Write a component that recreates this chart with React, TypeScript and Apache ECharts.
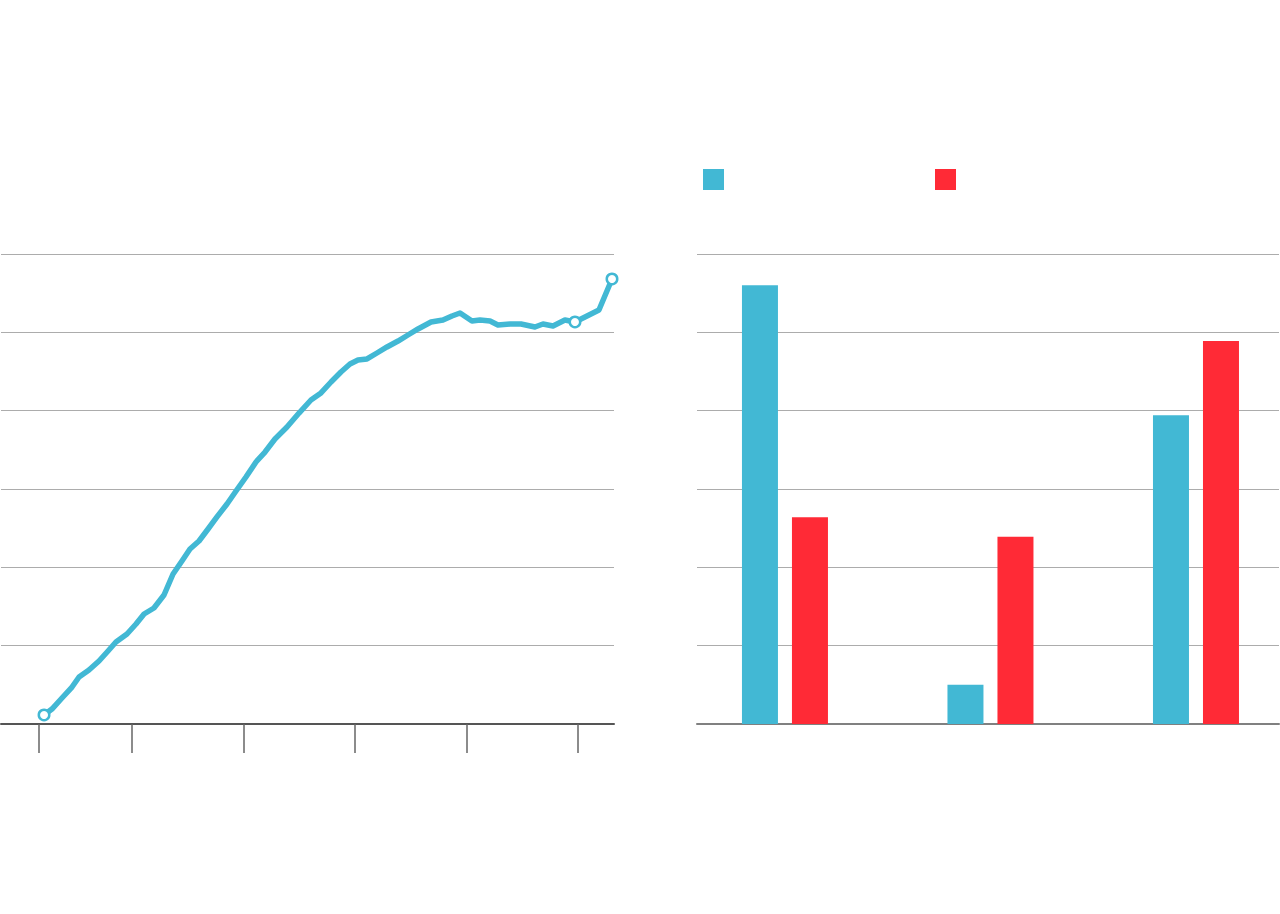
import React, { useEffect, useRef } from "react";
import * as echarts from "echarts";

// Left chart: line series (x in decimal years, y in value units 0–60)
const lineYears = [
  1972.11, 1972.82, 1973.72, 1974.62, 1975.25, 1976.14, 1977.04, 1977.85, 1978.56, 1979.55,
  1980.36, 1981.08, 1981.97, 1982.87, 1983.68, 1984.48, 1985.2, 1986.01, 1986.82, 1987.62,
  1988.52, 1989.33, 1990.22, 1991.12, 1991.93, 1992.82, 1993.9, 1994.98, 1996.05, 1996.95,
  1997.85, 1998.74, 1999.55, 2000.27, 2001.08, 2001.97, 2002.87, 2003.86, 2004.75, 2005.65,
  2006.82, 2007.89, 2008.7, 2009.42, 2010.49, 2011.21, 2012.11, 2012.82, 2013.9, 2014.89,
  2016.14, 2016.86, 2017.76, 2018.83, 2019.73, 2020.81, 2021.88, 2023.05,
];
const lineValues = [
  1.15, 1.91, 3.32, 4.72, 6.0, 6.89, 8.04, 9.32, 10.47, 11.49,
  12.77, 14.04, 14.81, 16.47, 19.15, 20.81, 22.34, 23.36, 24.89, 26.43,
  28.09, 29.74, 31.53, 33.45, 34.72, 36.38, 37.91, 39.7, 41.36, 42.26,
  43.66, 44.94, 45.96, 46.47, 46.6, 47.36, 48.13, 48.89, 49.66, 50.43,
  51.32, 51.57, 52.09, 52.47, 51.45, 51.57, 51.45, 50.94, 51.06, 51.06,
  50.68, 51.06, 50.81, 51.57, 51.32, 52.09, 52.85, 56.81,
];
const markedPoints = [0, 54, 57];
const lineTickYears = [1971.65, 1980, 1990, 2000, 2010, 2020];

// Right chart: grouped bars
const barPositions = [1, 2, 3];
const barSeriesNames = ["Series A", "Series B"];
const barValuesA = [56.0, 5.0, 39.4];
const barValuesB = [26.4, 23.9, 48.9];

const BLUE = "#42b8d4";
const RED = "#ff2a36";
const GRID_COLOR = "#acacac";

export default function App() {
  const ref = useRef<HTMLDivElement>(null);

  useEffect(() => {
    if (!ref.current) return;
    const chart = echarts.init(ref.current, null, { renderer: "svg" });

    const lineData = lineYears.map((yr, i) => {
      const marked = markedPoints.includes(i);
      return {
        value: [yr, lineValues[i]],
        symbol: marked ? "circle" : "none",
        symbolSize: marked ? 10.5 : 0,
      };
    });

    const option: any = {
      animation: false,
      backgroundColor: "#ffffff",
      legend: {
        data: barSeriesNames,
        left: 703,
        top: 169,
        padding: 0,
        itemWidth: 21,
        itemHeight: 21,
        itemGap: 211,
        icon: "rect",
        formatter: () => "",
        selectedMode: false,
      },
      grid: [
        { left: 1, right: 666, top: 254, bottom: 190 },
        { left: 697, right: 1, top: 254, bottom: 190 },
      ],
      xAxis: [
        {
          type: "value",
          gridIndex: 0,
          min: 1968.25,
          max: 2023.23,
          splitLine: { show: false },
          axisLabel: { show: false },
          axisLine: { show: true, lineStyle: { color: "#555555", width: 2 } },
          axisTick: {
            show: true,
            customValues: lineTickYears,
            length: 29,
            lineStyle: { color: "#666666", width: 1.5 },
          },
        },
        {
          type: "value",
          gridIndex: 1,
          min: 0.572,
          max: 3.404,
          splitLine: { show: false },
          axisLabel: { show: false },
          axisTick: { show: false },
          axisLine: { show: true, lineStyle: { color: "#808080", width: 2 } },
        },
      ],
      yAxis: [0, 1].map((g) => ({
        type: "value",
        gridIndex: g,
        min: 0,
        max: 60,
        interval: 10,
        axisLabel: { show: false },
        axisTick: { show: false },
        axisLine: { show: false },
        splitLine: { show: true, lineStyle: { color: GRID_COLOR, width: 1 } },
      })),
      series: [
        {
          type: "line",
          name: "Line",
          xAxisIndex: 0,
          yAxisIndex: 0,
          data: lineData,
          showSymbol: true,
          lineStyle: { color: BLUE, width: 5.5, cap: "round", join: "round" },
          itemStyle: { color: "#ffffff", borderColor: BLUE, borderWidth: 2.5 },
          z: 3,
        },
        {
          type: "bar",
          name: barSeriesNames[0],
          xAxisIndex: 1,
          yAxisIndex: 1,
          barWidth: 36,
          barGap: "38.9%",
          itemStyle: { color: BLUE },
          data: barPositions.map((p, i) => [p, barValuesA[i]]),
        },
        {
          type: "bar",
          name: barSeriesNames[1],
          xAxisIndex: 1,
          yAxisIndex: 1,
          barWidth: 36,
          barGap: "38.9%",
          itemStyle: { color: RED },
          data: barPositions.map((p, i) => [p, barValuesB[i]]),
        },
      ],
    };

    chart.setOption(option);
    return () => chart.dispose();
  }, []);

  return (
    <div
      ref={ref}
      style={{ position: "fixed", left: 0, top: 0, width: 1280, height: 914 }}
    />
  );
}
